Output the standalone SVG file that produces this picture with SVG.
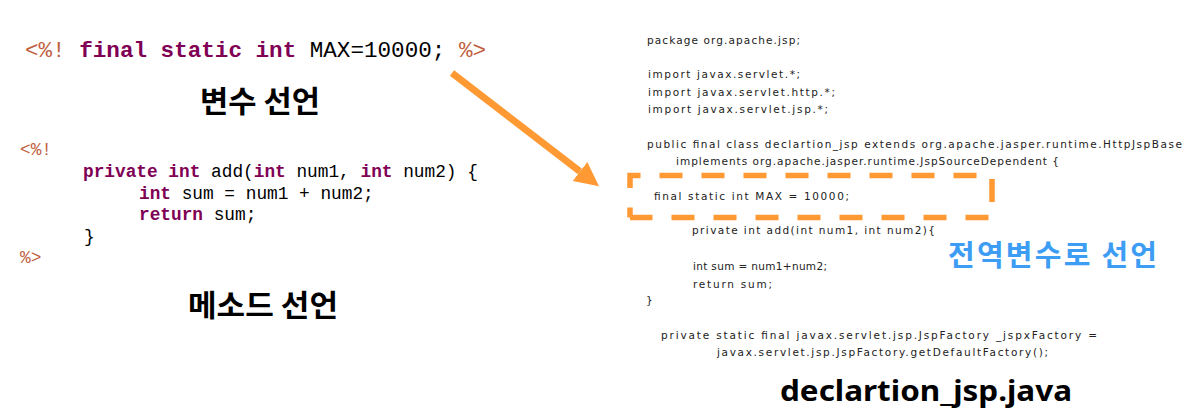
<svg xmlns="http://www.w3.org/2000/svg" width="1199" height="417" viewBox="0 0 1199 417">
<style>
.m1{font-family:"Liberation Mono","Courier New",monospace;font-size:22.6px;fill:#000}
.m2{font-family:"Liberation Mono","Courier New",monospace;font-size:17.8px;fill:#000}
.d{fill:#bf5f3f}
.k{fill:#7f0055;font-weight:bold}
.ko{font-family:"Noto Sans CJK KR",sans-serif;font-weight:700;font-size:30px;fill:#000}
.c{font-family:"DejaVu Sans","Liberation Sans",sans-serif;font-size:10.5px;fill:#222}
.hl{fill:none;stroke:#ff9933;stroke-width:5.5;stroke-linecap:butt}
.blue{font-family:"Noto Sans CJK KR",sans-serif;font-weight:700;font-size:29px;fill:#3d9df5}
.title{font-family:"Noto Sans","Open Sans",sans-serif;font-weight:700;font-size:28px;fill:#000}
.arr{stroke:#ff9933;stroke-width:7;fill:none}
</style>
<defs>
<marker id="ah" markerUnits="userSpaceOnUse" viewBox="0 0 24 24" markerWidth="24" markerHeight="24" refX="0" refY="12" orient="auto">
<path d="M0,0 L24,12 L0,24 z" fill="#ff9933"/>
</marker>
</defs>

<g id="var-decl">
<text class="m1" x="25" y="57"><tspan class="d">&lt;%!</tspan> <tspan class="k">final static int</tspan> MAX=10000; <tspan class="d">%&gt;</tspan></text>
<text class="ko" x="200" y="112" textLength="120" lengthAdjust="spacingAndGlyphs">변수 선언</text>
</g>

<g id="method-decl">
<text class="m2 d" x="20" y="155">&lt;%!</text>
<text class="m2" x="83" y="177"><tspan class="k">private int</tspan> add(<tspan class="k">int</tspan> num1, <tspan class="k">int</tspan> num2) {</text>
<text class="m2" x="139" y="198.5"><tspan class="k">int</tspan> sum = num1 + num2;</text>
<text class="m2" x="139" y="220"><tspan class="k">return</tspan> sum;</text>
<text class="m2" x="84" y="241.5">}</text>
<text class="m2 d" x="20" y="263">%&gt;</text>
<text class="ko" x="188" y="316" textLength="150" lengthAdjust="spacingAndGlyphs">메소드 선언</text>
</g>

<g id="connectors">
<line class="arr" x1="452" y1="73" x2="580" y2="171.5" marker-end="url(#ah)"/>
</g>

<g id="java-source">
<text class="c" x="647" y="43.5" textLength="153" lengthAdjust="spacing">package org.apache.jsp;</text>
<text class="c" x="648" y="78" textLength="152" lengthAdjust="spacing">import javax.servlet.*;</text>
<text class="c" x="648" y="95.5" textLength="187" lengthAdjust="spacing">import javax.servlet.http.*;</text>
<text class="c" x="648" y="112.5" textLength="180" lengthAdjust="spacing">import javax.servlet.jsp.*;</text>
<text class="c" x="647" y="147.5" textLength="535" lengthAdjust="spacing">public final class declartion_jsp extends org.apache.jasper.runtime.HttpJspBase</text>
<text class="c" x="676" y="164.5" textLength="383" lengthAdjust="spacing">implements org.apache.jasper.runtime.JspSourceDependent {</text>
<text class="c" x="654" y="199.5" textLength="195" lengthAdjust="spacing">final static int MAX = 10000;</text>
<text class="c" x="692" y="234" textLength="243" lengthAdjust="spacing">private int add(int num1, int num2){</text>
<text class="c" x="693" y="270" textLength="134" lengthAdjust="spacing">int sum = num1+num2;</text>
<text class="c" x="693" y="287.5" textLength="79" lengthAdjust="spacing">return sum;</text>
<text class="c" x="646" y="304">}</text>
<text class="c" x="661" y="338.5" textLength="436" lengthAdjust="spacing">private static final javax.servlet.jsp.JspFactory _jspxFactory =</text>
<text class="c" x="717" y="356" textLength="331" lengthAdjust="spacing">javax.servlet.jsp.JspFactory.getDefaultFactory();</text>
</g>

<g id="highlight">
<path class="hl" d="M630,188 V175.5 H992 V217.5 H630" stroke-dasharray="23 19"/>
<path class="hl" d="M630,207.5 V217.5"/>
</g>

<g id="global-label">
<text class="blue" x="948" y="266" textLength="209" lengthAdjust="spacing">전역변수로 선언</text>
</g>

<g id="file-title">
<text class="title" x="780" y="401" textLength="292" lengthAdjust="spacingAndGlyphs">declartion_jsp.java</text>
</g>
</svg>
